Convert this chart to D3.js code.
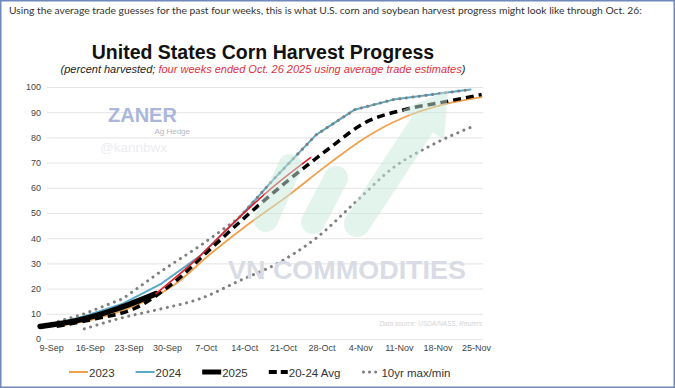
<!DOCTYPE html>
<html>
<head>
<meta charset="utf-8">
<script src="https://cdn.jsdelivr.net/npm/d3@7"></script>
<style>
  body { margin: 0; background: #fff; }
  text { font-family: "Liberation Sans", Arial, sans-serif; }
</style>
</head>
<body>
<script>
// tick dates for the x axis (week steps)
let tickDates = ["09-09", "09-16", "09-23", "09-30", "10-07", "10-14", "10-21", "10-28", "11-04", "11-11", "11-18", "11-25"];
let yTicks = [0, 10, 20, 30, 40, 50, 60, 70, 80, 90, 100];

// series, dates as month-day, values = percent harvested
let dates2023 = ["09-10", "09-17", "09-24", "10-01", "10-08", "10-15", "10-22", "10-29", "11-05", "11-12", "11-19", "11-26"];
let corn2023 = [5, 8, 13, 21, 34, 46, 57, 69, 80, 88, 93, 96];

let dates2024 = ["09-08", "09-15", "09-22", "09-29", "10-06", "10-13", "10-20", "10-27", "11-03", "11-10", "11-17", "11-24"];
let corn2024 = [5, 9, 14, 22, 33, 48, 65, 81, 91, 95, 97, 99];

let dates2025 = ["09-07", "09-14", "09-21", "09-28"];
let corn2025 = [5, 7.5, 12, 18];

let datesEst = ["09-28", "10-05", "10-12", "10-19", "10-26"];
let est2025 = [18, 31, 46, 60, 72];

let datesAvg = dates2023;
let avg2024 = [5, 8, 12, 22, 36, 50, 63, 75, 86, 91, 94, 97];

let datesMax = dates2024;
let max10 = [5.5, 10, 16, 27, 37, 48, 65, 81, 91, 95, 97, 99];

let datesMin = ["09-15", "09-22", "09-29", "10-06", "10-13", "10-20", "10-27", "11-03", "11-10", "11-17", "11-24"];
let min10 = [4, 8.5, 12, 16, 23, 30, 40, 54, 68, 77, 84];

let margins = { top: 87, right: 192, bottom: 49, left: 47 };
let width = 675 - margins.left - margins.right;
let height = 388 - margins.top - margins.bottom;

let parse = d3.timeParse("%Y-%m-%d");
function toDate(md) { return parse("2025-" + md); }
function pairs(dates, vals) { return dates.map(function(d, i) { return { date: toDate(d), v: vals[i] }; }); }

let xScale = d3.scaleTime()
  .domain([new Date(2025, 8, 8, 6), new Date(2025, 10, 26, 6)])
  .range([0, width]);
let yScale = d3.scaleLinear().domain([0, 100]).range([height, 0]);

let svg = d3.select("body").append("svg")
  .attr("width", 675).attr("height", 388);

svg.append("rect").attr("x", 0.75).attr("y", 0.75).attr("width", 673.5).attr("height", 386.5)
  .style("fill", "#fff").style("stroke", "#7089bd").style("stroke-width", 1.5);

// caption above the chart, font size fitted to the width it takes in the picture
let caption = svg.append("text")
  .attr("x", 9).attr("y", 14)
  .style("font-family", "Lato, sans-serif").style("font-size", "11px").style("fill", "#333")
  .text("Using the average trade guesses for the past four weeks, this is what U.S. corn and soybean harvest progress might look like through Oct. 26:");
let capW = caption.node().getComputedTextLength();
caption.style("font-size", (11 * 633 / capW).toFixed(2) + "px");

// title
svg.append("text")
  .attr("x", 263).attr("y", 58.5).attr("text-anchor", "middle")
  .style("font-size", "19.5px").style("font-weight", "bold").style("fill", "#111")
  .text("United States Corn Harvest Progress");

let sub = svg.append("text")
  .attr("x", 263).attr("y", 72.5).attr("text-anchor", "middle")
  .style("font-size", "11px").style("font-style", "italic");
sub.append("tspan").style("fill", "#222").text("(percent harvested; ");
sub.append("tspan").style("fill", "#e0303c").text("four weeks ended Oct. 26 2025 using average trade estimates");
sub.append("tspan").style("fill", "#222").text(")");

let graph = svg.append("g")
  .attr("transform", "translate(" + margins.left + "," + margins.top + ")");

// horizontal grid
let yAxisGrid = d3.axisLeft(yScale).tickValues(yTicks).tickSize(-width).tickFormat("");
graph.append("g")
  .attr("class", "grid")
  .call(yAxisGrid)
  .call(function(g) { g.select(".domain").remove(); })
  .call(function(g) { g.selectAll("line").style("stroke", "#e4e4e4").style("stroke-width", 1); });

// y labels
let yAxis = d3.axisLeft(yScale).tickValues(yTicks).tickSize(0).tickPadding(6);
graph.append("g")
  .call(yAxis)
  .call(function(g) { g.select(".domain").remove(); })
  .call(function(g) {
    g.selectAll("text").style("font-size", "9px").style("fill", "#444")
      .style("font-family", "'Liberation Sans', Arial, sans-serif");
  });

// x labels
let xAxis = d3.axisBottom(xScale)
  .tickValues(tickDates.map(toDate))
  .tickFormat(d3.timeFormat("%-d-%b"))
  .tickSize(0).tickPadding(6);
graph.append("g")
  .attr("transform", "translate(0," + height + ")")
  .call(xAxis)
  .call(function(g) { g.select(".domain").remove(); })
  .call(function(g) {
    g.selectAll("text").style("font-size", "9px").style("fill", "#444")
      .style("font-family", "'Liberation Sans', Arial, sans-serif");
  });

// watermarks
let wm = svg.append("g").attr("class", "watermark").style("opacity", 0.5);
let mint = "#c9eadd";
wm.append("path").attr("d", "M266,220 L290,166")
  .style("stroke", mint).style("stroke-width", 24).style("stroke-linecap", "round").style("fill", "none");
wm.append("path").attr("d", "M313,222 L336,178")
  .style("stroke", mint).style("stroke-width", 24).style("stroke-linecap", "round").style("fill", "none");
wm.append("path").attr("d", "M357,224 L423,124")
  .style("stroke", mint).style("stroke-width", 26).style("stroke-linecap", "round").style("fill", "none");
wm.append("path").attr("d", "M402,110 L448,90 L444,140 Z")
  .style("fill", mint);
svg.append("text").attr("x", 108).attr("y", 122)
  .style("font-size", "20px").style("font-weight", "bold").style("fill", "#aab6da")
  .text("ZANER");
svg.append("text").attr("x", 190).attr("y", 134).attr("text-anchor", "end")
  .style("font-size", "8px").style("fill", "#b3b7c2")
  .text("Ag Hedge");
svg.append("text").attr("x", 100).attr("y", 152)
  .style("font-size", "13.5px").style("fill", "#ececf0")
  .text("@kannbwx");
svg.append("text").attr("x", 228).attr("y", 279)
  .attr("textLength", 238).attr("lengthAdjust", "spacingAndGlyphs")
  .style("font-size", "26px").style("font-weight", "bold").style("fill", "#d9dce4")
  .text("VN COMMODITIES");
svg.append("text").attr("x", 482).attr("y", 326).attr("text-anchor", "end")
  .style("font-size", "6.5px").style("font-style", "italic").style("fill", "#d4d4d4")
  .text("Data source: USDA/NASS, Reuters");

let smooth = d3.line()
  .x(function(d) { return xScale(d.date); })
  .y(function(d) { return yScale(d.v); })
  .curve(d3.curveMonotoneX);
let straight = d3.line()
  .x(function(d) { return xScale(d.date); })
  .y(function(d) { return yScale(d.v); });

let lines = graph.append("g").attr("class", "lines");

function drawLine(gen, data, color, w, dash) {
  let p = lines.append("path")
    .attr("d", gen(data))
    .style("fill", "none")
    .style("stroke", color)
    .style("stroke-width", w)
    .style("stroke-linecap", "round")
    .style("stroke-linejoin", "round");
  if (dash) p.style("stroke-dasharray", dash);
  return p;
}

drawLine(smooth, pairs(dates2023, corn2023), "#f0a04b", 1.8);
drawLine(straight, pairs(dates2024, corn2024), "#5aa9c9", 2);
drawLine(straight, pairs(datesMax, max10), "#7f7f7f", 3, "0.1,6.5");
drawLine(smooth, pairs(datesMin, min10), "#7f7f7f", 3, "0.1,6.5");
drawLine(smooth, pairs(datesAvg, avg2024), "#000", 3.5, "8,5").style("stroke-linecap", "butt");
drawLine(smooth, pairs(dates2025, corn2025), "#000", 5.5);
drawLine(smooth, pairs(datesEst, est2025), "#e0202a", 1.6);

// legend
let legendItems = [
  { name: "2023", color: "#f0a04b", w: 2, dash: null, cap: "butt" },
  { name: "2024", color: "#5aa9c9", w: 2, dash: null, cap: "butt" },
  { name: "2025", color: "#000", w: 5, dash: null, cap: "butt" },
  { name: "20-24 Avg", color: "#000", w: 4, dash: "8,4", cap: "butt" },
  { name: "10yr max/min", color: "#7f7f7f", w: 3, dash: "0.1,6", cap: "round" }
];
let legend = svg.append("g").attr("class", "legend");
let lx = 69;
legendItems.forEach(function(item) {
  let sw = 19;
  let l = legend.append("line")
    .attr("x1", lx + (item.cap == "round" ? 2 : 0)).attr("x2", lx + sw)
    .attr("y1", 372).attr("y2", 372)
    .style("stroke", item.color).style("stroke-width", item.w)
    .style("stroke-linecap", item.cap);
  if (item.dash) l.style("stroke-dasharray", item.dash);
  let t = legend.append("text")
    .attr("x", lx + sw + 1).attr("y", 376.5)
    .style("font-size", "11.5px").style("fill", "#333")
    .text(item.name);
  lx += sw + 1 + t.node().getComputedTextLength() + 21;
});
</script>
</body>
</html>
